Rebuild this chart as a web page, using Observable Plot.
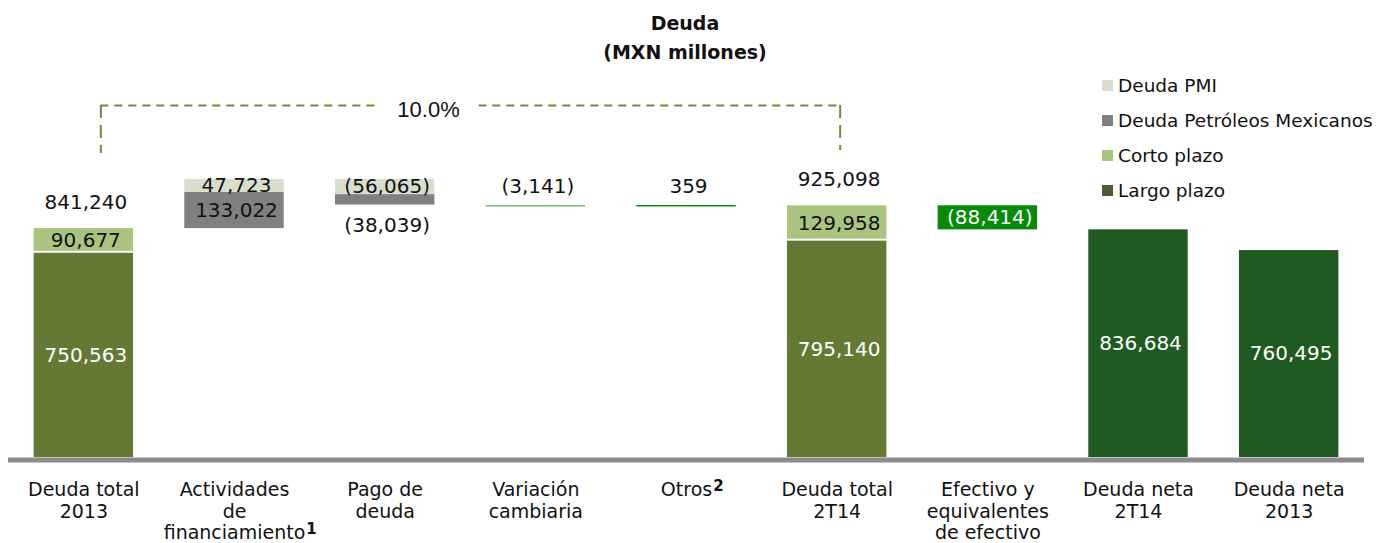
<!DOCTYPE html>
<html><head><meta charset="utf-8">
<script src="https://cdn.jsdelivr.net/npm/d3@7"></script>
<script src="https://cdn.jsdelivr.net/npm/@observablehq/plot@0.6"></script>
<style>
body{margin:0;background:#fff;font-family:"DejaVu Sans",sans-serif;color:#111}
#wrap{position:relative;width:1392px;height:543px;overflow:hidden;background:#fff}
#title{height:66px;box-sizing:border-box;padding-top:9px;width:1370px;text-align:center;font-weight:bold;font-size:19px;line-height:28.5px}
#legend{position:absolute;left:1102px;top:67.5px;font-size:18.5px;color:#111}
.item{display:flex;align-items:center;height:35px;white-space:nowrap}
.sw{width:11px;height:11px;margin-right:5px;flex:none}
</style></head><body>
<div id="wrap"><div id="title">Deuda<br>(MXN millones)</div><div id="chart"></div><div id="legend"></div></div>
<script>
// ---- data ----
const categorias = ["Deuda total\n2013","Actividades\nde\nfinanciamiento","Pago de\ndeuda","Variación\ncambiaria","Otros","Deuda total\n2T14","Efectivo y\nequivalentes\nde efectivo","Deuda neta\n2T14","Deuda neta\n2013"];
const notasAlPie = [null,"1",null,null,"2",null,null,null,null];
const largoPlazo = [750563,null,null,null,null,795140,null,null,null];
const cortoPlazo = [90677,null,null,null,null,129958,null,null,null];
const totalDeuda = [841240,null,null,null,null,925098,null,null,null];
const deudaPetroleos = [null,133022,-38039,null,null,null,null,null,null];
const deudaPMI = [null,47723,-56065,null,null,null,null,null,null];
const ajustes = [null,null,null,-3141,359,null,null,null,null];
const efectivo = [null,null,null,null,null,null,-88414,null,null];
const deudaNeta = [null,null,null,null,null,null,null,836684,760495];
const leyenda = ["Deuda PMI","Deuda Petróleos Mexicanos","Corto plazo","Largo plazo"];
const bracketDesde = 0, bracketHasta = 5;
const bracketNivel = 1294000, bracketFinIzq = 1117000, bracketFinDer = 1128000;

// ---- styles ----
const series = ["Largo plazo","Corto plazo","Deuda Petróleos Mexicanos","Deuda PMI","Efectivo","Deuda neta"];
const colores = ["#647a34","#a9c47f","#808080","#d7dfcb","#078a07","#1f5a23"];
const coloresLeyenda = {"Deuda PMI":"#d7dfcb","Deuda Petróleos Mexicanos":"#808080","Corto plazo":"#a9c47f","Largo plazo":"#4e5b31"};
const oscuras = new Set(["Largo plazo","Efectivo","Deuda neta"]);

// ---- build waterfall ----
const segs = [], niveles = [], totales = [];
let nivel = 0;
categorias.forEach((_, i) => {
  if (largoPlazo[i] != null) {
    segs.push({i, serie:"Largo plazo", y1:0, y2:largoPlazo[i], v:largoPlazo[i]});
    segs.push({i, serie:"Corto plazo", y1:largoPlazo[i], y2:largoPlazo[i]+cortoPlazo[i], v:cortoPlazo[i]});
    nivel = largoPlazo[i] + cortoPlazo[i];
    totales.push({i, y:nivel, v:totalDeuda[i]});
  }
  if (deudaPetroleos[i] != null) {
    const p = deudaPetroleos[i], m = deudaPMI[i];
    if (p >= 0) {
      segs.push({i, serie:"Deuda Petróleos Mexicanos", y1:nivel, y2:nivel+p, v:p});
      segs.push({i, serie:"Deuda PMI", y1:nivel+p, y2:nivel+p+m, v:m});
    } else {
      segs.push({i, serie:"Deuda PMI", y1:nivel+m, y2:nivel, v:m});
      segs.push({i, serie:"Deuda Petróleos Mexicanos", y1:nivel+m+p, y2:nivel+m, v:p, fuera:true});
    }
    nivel += p + m;
  }
  if (ajustes[i] != null) { nivel += ajustes[i]; niveles.push({i, y:nivel, v:ajustes[i]}); }
  if (efectivo[i] != null) { segs.push({i, serie:"Efectivo", y1:nivel+efectivo[i], y2:nivel, v:efectivo[i]}); nivel += efectivo[i]; }
  if (deudaNeta[i] != null) segs.push({i, serie:"Deuda neta", y1:0, y2:deudaNeta[i], v:deudaNeta[i]});
});

const fmt = d3.format(",");
const lab = v => v < 0 ? `(${fmt(-v)})` : fmt(v);
const W = 0.33;
const FS = 19, LH = 1.14, PAD = 23;

const ctx = document.createElement("canvas").getContext("2d");
ctx.font = `${FS}px 'DejaVu Sans'`;
const notas = [];
notasAlPie.forEach((n, i) => {
  if (!n) return;
  const lines = categorias[i].split("\n");
  const last = lines[lines.length-1];
  notas.push({i, n, dx: ctx.measureText(last).width/2 + 1,
    dy: PAD + 0.71*FS + (lines.length-1)*LH*FS - 3.5 - 0.32*15});
});

const crecimiento = d3.format(".1%")(totalDeuda[5]/totalDeuda[0] - 1);
const olive = "#76893a";

const chart = Plot.plot({
  width: 1392, height: 477,
  marginLeft: 8, marginRight: 28, marginTop: 0, marginBottom: 86,
  x: {domain: [-0.5, 8.5]},
  y: {domain: [0, 1437000], axis: null},
  color: {domain: series, range: colores},
  style: {fontFamily: "DejaVu Sans", fontSize: "20px", color: "#111", background: "white", overflow: "visible"},
  marks: [
    Plot.rect(segs.filter(d => d.serie !== "Corto plazo"), {x1: d => d.i - W, x2: d => d.i + W, y1: "y1", y2: "y2", fill: "serie"}),
    Plot.rect(segs.filter(d => d.serie === "Corto plazo"), {x1: d => d.i - W, x2: d => d.i + W, y1: "y1", y2: "y2", fill: "serie", insetBottom: 2}),
    Plot.ruleY(niveles.filter(d => d.v < 0), {x1: d => d.i - W, x2: d => d.i + W, y: "y", stroke: "#55b455", strokeWidth: 1.4}),
    Plot.ruleY(niveles.filter(d => d.v >= 0), {x1: d => d.i - W, x2: d => d.i + W, y: "y", stroke: "#0f8a0f", strokeWidth: 1.4}),
    Plot.ruleY([0], {stroke: "#8c8c8c", strokeWidth: 5, dy: 2.5}),
    Plot.axisX(d3.range(categorias.length), {tickFormat: i => categorias[i], tickSize: 0, tickPadding: PAD, fontSize: FS, lineHeight: LH, label: null}),
    ...notas.map(d => Plot.text([d], {x: "i", text: "n", frameAnchor: "bottom", dx: d.dx, dy: d.dy, textAnchor: "start", fontSize: 15, fontWeight: "bold", lineAnchor: "middle", fill: "#111"})),
    Plot.text(segs.filter(d => !d.fuera && oscuras.has(d.serie)), {x: "i", y: d => (d.y1 + d.y2)/2, text: d => lab(d.v), fill: "white", dx: 2, lineAnchor: "middle"}),
    Plot.text(segs.filter(d => !d.fuera && !oscuras.has(d.serie)), {x: "i", y: d => (d.y1 + d.y2)/2, text: d => lab(d.v), fill: "#111", dx: 2, lineAnchor: "middle"}),
    Plot.text(segs.filter(d => d.fuera), {x: "i", y: "y1", text: d => lab(d.v), fill: "#111", dx: 2, dy: 21, lineAnchor: "middle"}),
    Plot.text(totales, {x: "i", y: "y", text: d => lab(d.v), fill: "#111", dx: 2, dy: -26, lineAnchor: "middle"}),
    Plot.text(niveles, {x: "i", y: "y", text: d => lab(d.v), fill: "#111", dx: 2, dy: -19, lineAnchor: "middle"}),
    Plot.ruleX([bracketDesde], {x: d => d, y1: bracketNivel, y2: bracketFinIzq, dx: 17, stroke: olive, strokeWidth: 2, strokeDasharray: "13,7"}),
    Plot.ruleX([bracketHasta], {x: d => d, y1: bracketNivel, y2: bracketFinDer, dx: 3, stroke: olive, strokeWidth: 2, strokeDasharray: "13,7"}),
    Plot.ruleY([bracketNivel], {x1: bracketDesde, x2: bracketHasta, insetLeft: 17, insetRight: -3, stroke: olive, strokeWidth: 2, strokeDasharray: "8,6"}),
    Plot.text([crecimiento], {x: (bracketDesde + bracketHasta)/2, y: bracketNivel, text: d => d, dx: -32, dy: 5, fontFamily: "Liberation Sans", fontSize: 22, fill: "#111", stroke: "white", strokeWidth: 40, strokeLinejoin: "round", lineAnchor: "middle"})
  ]
});
document.getElementById("chart").appendChild(chart);

const lg = document.getElementById("legend");
leyenda.forEach(s => {
  const it = document.createElement("div"); it.className = "item";
  const sw = document.createElement("span"); sw.className = "sw"; sw.style.background = coloresLeyenda[s];
  const t = document.createElement("span"); t.textContent = s;
  it.appendChild(sw); it.appendChild(t); lg.appendChild(it);
});
</script>
</body></html>
